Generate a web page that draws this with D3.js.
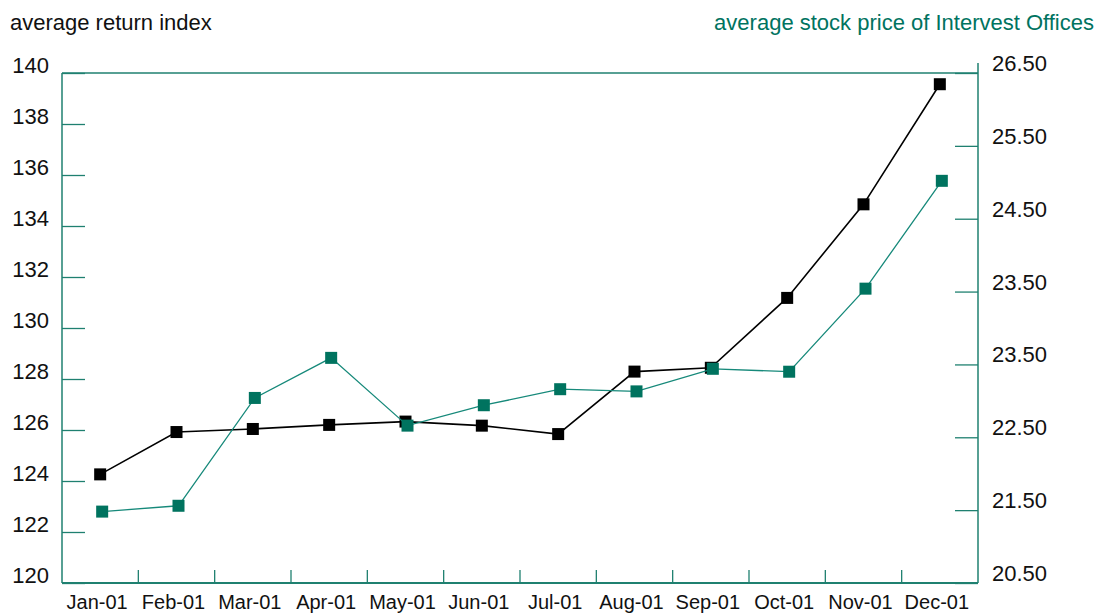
<!DOCTYPE html>
<html>
<head>
<meta charset="utf-8">
<script src="https://cdn.jsdelivr.net/npm/d3@7"></script>
<style>
	body{ margin:0; background:#fff; }
	svg text{ font-family: "Liberation Sans", Arial, sans-serif; }
</style>
</head>
<body>
<div id="chart"></div>
<script>
// chart data
var months = ["Jan-01","Feb-01","Mar-01","Apr-01","May-01","Jun-01","Jul-01","Aug-01","Sep-01","Oct-01","Nov-01","Dec-01"];
var returnIndex = [124.26, 125.92, 126.04, 126.2, 126.33, 126.17, 125.84, 128.29, 128.44, 131.18, 134.85, 139.56];
var stockPrice = [21.48, 21.56, 23.04, 23.59, 22.66, 22.94, 23.16, 23.13, 23.44, 23.40, 24.54, 26.02];
var leftTicks = [120, 122, 124, 126, 128, 130, 132, 134, 136, 138, 140];
var rightTickValues = [20.5, 21.5, 22.5, 23.5, 24.5, 25.5, 26.5, 27.5];
var rightTickLabels = ["20.50", "21.50", "22.50", "23.50", "23.50", "24.50", "25.50", "26.50"];

var W = 1097, H = 614;
var margin = {top: 73, right: 119, bottom: 31, left: 62},
	width = W - margin.left - margin.right,
	height = H - margin.top - margin.bottom;

var teal = "#00735f", axisCol = "#1f8070";

var svg = d3.select("#chart")
	.append("svg")
	.attr("width", W)
	.attr("height", H);

var g = svg.append("g")
	.attr("transform", "translate(" + margin.left + "," + margin.top + ")");

var x = d3.scaleBand()
	.domain(months)
	.range([0, width]);

var yL = d3.scaleLinear()
	.domain([120, 140])
	.range([height, 0]);

var yR = d3.scaleLinear()
	.domain([20.5, 27.5])
	.range([height, 0]);

// top border
g.append("line")
	.attr("x1", 0).attr("x2", width)
	.attr("y1", 0).attr("y2", 0)
	.attr("stroke", axisCol).attr("stroke-width", 1.5);

// left axis: ticks inward
var leftAxis = g.append("g")
	.call(d3.axisRight(yL).tickValues(leftTicks).tickSize(23).tickFormat(""));
leftAxis.select(".domain").remove();
leftAxis.selectAll(".tick line").attr("stroke", axisCol).attr("stroke-width", 1.3);
g.append("line")
	.attr("x1", 0).attr("x2", 0).attr("y1", 0).attr("y2", height)
	.attr("stroke", axisCol).attr("stroke-width", 1.5);
g.selectAll(".lLabel")
	.data(leftTicks)
	.enter().append("text")
	.attr("x", -13)
	.attr("y", function(d){ return yL(d) - 0; })
	.attr("text-anchor", "end")
	.style("font-size", "22px")
	.attr("fill", "#111")
	.text(function(d){ return d; });

// right axis: ticks inward
var rightAxis = g.append("g")
	.attr("transform", "translate(" + width + ",0)")
	.call(d3.axisLeft(yR).tickValues(rightTickValues).tickSize(23).tickFormat(""));
rightAxis.select(".domain").remove();
rightAxis.selectAll(".tick line").attr("stroke", axisCol).attr("stroke-width", 1.3);
g.append("line")
	.attr("x1", width).attr("x2", width).attr("y1", -10).attr("y2", height)
	.attr("stroke", axisCol).attr("stroke-width", 1.5);
g.selectAll(".rLabel")
	.data(rightTickValues)
	.enter().append("text")
	.attr("x", width + 14)
	.attr("y", function(d){ return yR(d) - 2; })
	.style("font-size", "22px")
	.attr("fill", "#111")
	.text(function(d, i){ return rightTickLabels[i]; });

// bottom axis
var bottomAxis = g.append("g")
	.attr("transform", "translate(0," + height + ")");
bottomAxis.selectAll("line")
	.data(months.slice(1))
	.enter().append("line")
	.attr("x1", function(d){ return x(d); })
	.attr("x2", function(d){ return x(d); })
	.attr("y1", 0).attr("y2", -13)
	.attr("stroke", axisCol).attr("stroke-width", 1.3);
bottomAxis.append("line")
	.attr("x1", 0).attr("x2", width).attr("y1", 0).attr("y2", 0)
	.attr("stroke", axisCol).attr("stroke-width", 2.2);
bottomAxis.selectAll("text")
	.data(months)
	.enter().append("text")
	.attr("x", function(d){ return x(d) + x.bandwidth() / 2 - 3; })
	.attr("y", 26)
	.attr("text-anchor", "middle")
	.style("font-size", "20px")
	.attr("fill", "#111")
	.text(function(d){ return d; });

// titles
svg.append("text")
	.attr("x", 10).attr("y", 30)
	.style("font-size", "22px")
	.attr("fill", "#111")
	.text("average return index");
svg.append("text")
	.attr("x", 1094).attr("y", 30)
	.attr("text-anchor", "end")
	.style("font-size", "22px")
	.attr("fill", teal)
	.text("average stock price of Intervest Offices");

var cx = function(d, i){ return x(months[i]) + x.bandwidth() / 2; };

// black series
g.append("path")
	.datum(returnIndex)
	.attr("fill", "none")
	.attr("stroke", "#000")
	.attr("stroke-width", 1.6)
	.attr("d", d3.line().x(cx).y(function(d){ return yL(d); }));
g.selectAll(".bm")
	.data(returnIndex)
	.enter().append("rect")
	.attr("x", function(d, i){ return cx(d, i) - 6; })
	.attr("y", function(d){ return yL(d) - 6; })
	.attr("width", 12).attr("height", 12)
	.attr("fill", "#000");

// teal series
g.append("path")
	.datum(stockPrice)
	.attr("fill", "none")
	.attr("stroke", "#16897a")
	.attr("stroke-width", 1.3)
	.attr("d", d3.line().x(function(d, i){ return cx(d, i) + 2; }).y(function(d){ return yR(d); }));
g.selectAll(".tm")
	.data(stockPrice)
	.enter().append("rect")
	.attr("x", function(d, i){ return cx(d, i) + 2 - 6; })
	.attr("y", function(d){ return yR(d) - 6; })
	.attr("width", 12).attr("height", 12)
	.attr("fill", teal);
</script>
</body>
</html>
